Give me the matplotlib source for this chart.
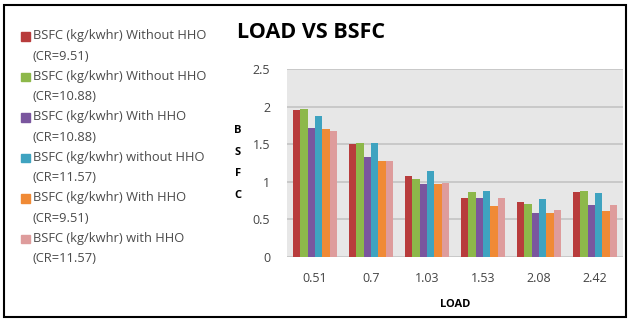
import matplotlib
matplotlib.use('Agg')
import matplotlib.pyplot as plt
from matplotlib.patches import Rectangle, Patch
from matplotlib.legend_handler import HandlerPatch
import numpy as np

plt.rcParams['font.family'] = ['Open Sans', 'DejaVu Sans']

# data
loads = ['0.51', '0.7', '1.03', '1.53', '2.08', '2.42']
series_names = [
    'BSFC (kg/kwhr) Without HHO\n(CR=9.51)',
    'BSFC (kg/kwhr) Without HHO\n(CR=10.88)',
    'BSFC (kg/kwhr) With HHO\n(CR=10.88)',
    'BSFC (kg/kwhr) without HHO\n(CR=11.57)',
    'BSFC (kg/kwhr) With HHO\n(CR=9.51)',
    'BSFC (kg/kwhr) with HHO\n(CR=11.57)',
]
wo_951 = [1.95, 1.50, 1.08, 0.78, 0.73, 0.86]
wo_1088 = [1.97, 1.51, 1.04, 0.86, 0.70, 0.88]
w_1088 = [1.71, 1.33, 0.97, 0.78, 0.59, 0.69]
wo_1157 = [1.87, 1.51, 1.15, 0.88, 0.77, 0.85]
w_951 = [1.70, 1.27, 0.97, 0.68, 0.59, 0.61]
w_1157 = [1.68, 1.27, 0.99, 0.78, 0.63, 0.69]
series = [wo_951, wo_1088, w_1088, wo_1157, w_951, w_1157]
colors = ['#B83C3C', '#8DB84A', '#7A569E', '#3FA3C0', '#F08A35', '#DE9C9C']


def top_square(legend, orig_handle, xdescent, ydescent, width, height, fontsize):
    # put the colour box next to the first line of a two-line label
    return Rectangle((-xdescent, -ydescent + 7.2), width, height)


fig = plt.figure(figsize=(6.3, 3.2), dpi=100)
ax = fig.add_axes([287/630, 1-257/320, (623-287)/630, (257-69)/320])
ax.set_facecolor('#e7e7e7')

x = np.arange(len(loads))
w = 0.8 / len(series)
for i, (vals, c) in enumerate(zip(series, colors)):
    ax.bar(x - 0.4 + w*(i+0.5), vals, width=w, color=c, zorder=3)

ax.set_xlim(-0.5, len(loads)-0.5)
ax.set_ylim(0, 2.5)
ax.set_yticks([0, 0.5, 1, 1.5, 2, 2.5])
ax.set_yticklabels(['0', '0.5', '1', '1.5', '2', '2.5'])
ax.set_xticks(x)
ax.set_xticklabels(loads)
ax.tick_params(length=0, labelsize=9, colors='#444444')
ax.tick_params(axis='x', pad=11)
ax.tick_params(axis='y', pad=12)
ax.grid(axis='y', color='#c4c4c4', linewidth=1.2, zorder=0)
for s in ax.spines.values():
    s.set_visible(False)
ax.set_xlabel('LOAD', fontsize=8, fontweight='bold', labelpad=10)

fig.text(237/630, 1-33/320, 'LOAD VS BSFC', fontsize=15.5, fontweight='bold',
         ha='left', va='center')
fig.text(238/630, 1-163/320, 'B\nS\nF\nC', fontsize=8, fontweight='bold',
         ha='center', va='center', linespacing=2.3)

handles = [Patch(color=c) for c in colors]
leg = fig.legend(handles, series_names, loc='upper left',
                 bbox_to_anchor=(16/630, 1-24/320), frameon=False,
                 fontsize=9.3, handlelength=0.65, handleheight=0.65,
                 handletextpad=0.25, labelspacing=0.55, borderaxespad=0,
                 handler_map={Patch: HandlerPatch(patch_func=top_square)})
for t in leg.get_texts():
    t.set_color('#4a4a4a')
    t.set_linespacing(1.74)

fig.patches.append(Rectangle((4/630, 3/320), 622/630, 312/320,
                             transform=fig.transFigure, fill=False,
                             edgecolor='black', linewidth=1.5))

fig.savefig('out.png', dpi=100)
